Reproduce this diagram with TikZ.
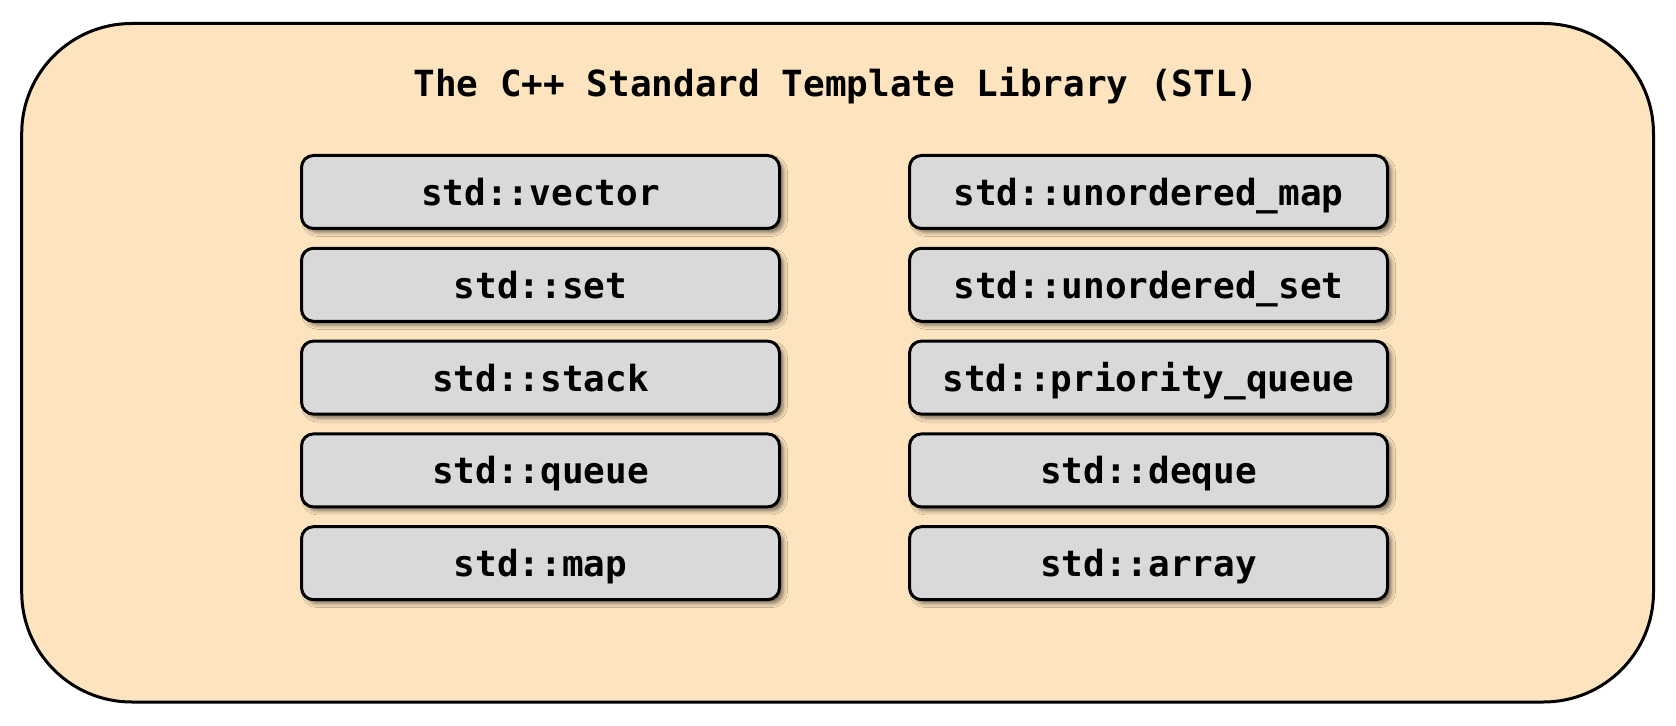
\documentclass[tikz,border=0pt]{standalone}
\usepackage{fontspec}
\setmonofont{DejaVu Sans Mono}
\usetikzlibrary{positioning}
\usetikzlibrary{shadows.blur}
\definecolor{stlbg}{HTML}{FDE4BF}
\definecolor{boxcol}{HTML}{D9D9D9}
\tikzstyle{container}=[draw=black,line width=1.5pt,fill=stlbg,rounded corners=55pt]
\tikzset{
  stlbox/.style={draw=black,line width=1.5pt,fill=boxcol,rounded corners=6pt,
                 minimum width=239pt,minimum height=36.5pt,
                 text height=13.5pt,text depth=0pt,
                 font=\fontsize{18}{22}\selectfont\ttfamily\bfseries,
                 blur shadow={shadow xshift=2pt,shadow yshift=-2pt,
                 shadow blur radius=2pt,shadow opacity=50}},
  title/.style={font=\fontsize{18}{22}\selectfont\ttfamily\bfseries}}

\begin{document}
\begin{tikzpicture}[x=0.5pt,y=-0.5pt,node distance=8.4pt]
  \useasboundingbox (0,0) rectangle (1676,726);

  % CONTAINER
  \draw[container] (21.7,23.5) rectangle (1653.5,702);
  \node[title,anchor=base] (head) at (836,97) {The C++ Standard Template Library (STL)};

  % LEFT COLUMN
  \node[stlbox] (vector) at (540.5,192) {std::vector};
  \node[stlbox,below=of vector] (set) {std::set};
  \node[stlbox,below=of set] (stack) {std::stack};
  \node[stlbox,below=of stack] (queue) {std::queue};
  \node[stlbox,below=of queue] (map) {std::map};

  % RIGHT COLUMN
  \node[stlbox] (umap) at (1148.5,192) {std::unordered\_map};
  \node[stlbox,below=of umap] (uset) {std::unordered\_set};
  \node[stlbox,below=of uset] (pqueue) {std::priority\_queue};
  \node[stlbox,below=of pqueue] (deque) {std::deque};
  \node[stlbox,below=of deque] (array) {std::array};

\end{tikzpicture}
\end{document}
